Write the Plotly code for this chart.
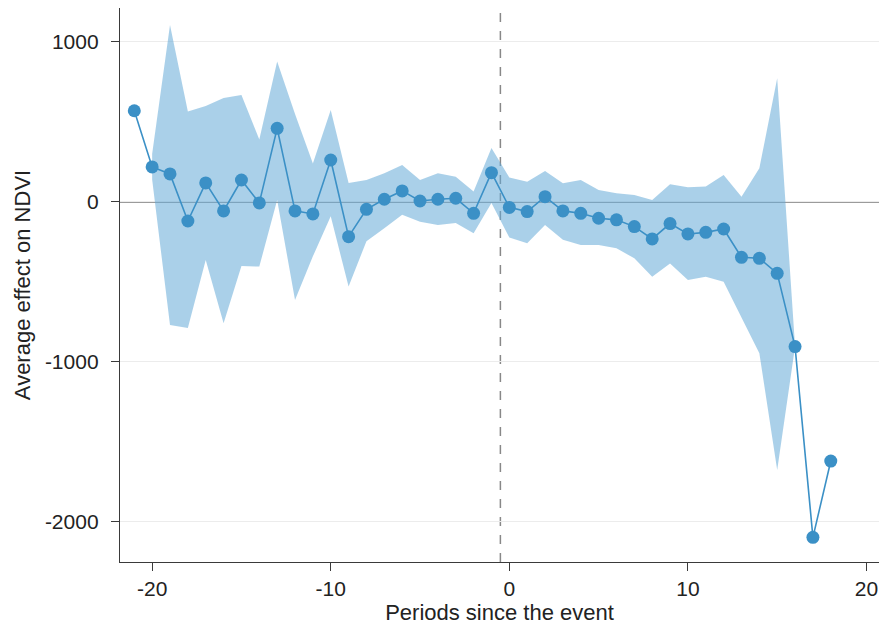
import plotly.graph_objects as go

# Event-study estimates: period relative to the event, point estimate and 95% CI
periods = [-21, -20, -19, -18, -17, -16, -15, -14, -13, -12, -11, -10, -9, -8, -7,
           -6, -5, -4, -3, -2, -1, 0, 1, 2, 3, 4, 5, 6, 7, 8, 9, 10, 11, 12, 13,
           14, 15, 16, 17, 18]
estimates = [570, 219, 175, -119, 119, -56, 137, -6, 460, -56, -75, 262, -217, -46, 17,
             69, 6, 17, 23, -71, 183, -34, -60, 33, -56, -71, -102, -112, -154, -231, -135,
             -200, -190, -169, -346, -352, -446, -904, -2096, -1619]

# Confidence band (available from period -20 to 16)
ci_periods = [-20, -19, -18, -17, -16, -15, -14, -13, -12, -11, -10, -9, -8, -7, -6,
              -5, -4, -3, -2, -1, 0, 1, 2, 3, 4, 5, 6, 7, 8, 9, 10, 11, 12, 13, 14,
              15, 16]
ci_upper = [300, 1106, 565, 600, 650, 669, 390, 877, 550, 240, 575, 119, 137, 180, 231,
            137, 180, 158, 65, 337, 152, 127, 194, 117, 137, 75, 54, 44, 12, 110, 92,
            96, 169, 33, 210, 773, -904]
ci_lower = [140, -769, -788, -362, -758, -400, -404, 12, -612, -340, -90, -529, -245, -165, -80,
            -123, -144, -131, -195, -6, -222, -258, -144, -237, -269, -269, -290, -352, -467, -385, -487,
            -467, -498, -717, -945, -1675, -904]

x_ticks = [-20, -10, 0, 10, 20]
x_tick_labels = ["-20", "-10", "0", "10", "20"]
y_ticks = [1000, 0, -1000, -2000]
y_tick_labels = ["1000", "0", "-1000", "-2000"]

event_line = -0.5

blue = "#3b90c6"
band = "rgba(100,170,215,0.55)"
font = "Liberation Sans, Arial, sans-serif"
axis_col = "#3a3a3a"

fig = go.Figure()

fig.add_trace(go.Scatter(
    x=ci_periods + ci_periods[::-1],
    y=ci_upper + ci_lower[::-1],
    fill="toself", fillcolor=band, line=dict(width=0),
    mode="lines", hoverinfo="skip", showlegend=False,
))

fig.add_trace(go.Scatter(
    x=periods, y=estimates, mode="lines+markers",
    line=dict(color=blue, width=1.6),
    marker=dict(color=blue, size=13),
    showlegend=False,
))

fig.add_hline(y=0, line=dict(color="#7a7a7a", width=1.5), layer="below")
fig.add_vline(x=event_line, line=dict(color="#888888", width=1.5, dash="dash"), layer="below")

fig.update_layout(
    width=880, height=628,
    margin=dict(l=120, r=1, t=8, b=66),
    plot_bgcolor="white", paper_bgcolor="white",
    font=dict(family=font, size=21, color="#222222"),
)

fig.update_xaxes(
    range=[-21.8, 20.7],
    tickmode="array", tickvals=x_ticks, ticktext=x_tick_labels,
    ticks="outside", ticklen=8, tickcolor=axis_col, tickwidth=1.3,
    showline=True, linecolor=axis_col, linewidth=1.4,
    showgrid=False, zeroline=False,
    title=dict(text="Periods since the event", standoff=0, font=dict(size=22)),
    tickfont=dict(size=21),
)

fig.update_yaxes(
    range=[-2250, 1212],
    tickmode="array", tickvals=y_ticks, ticktext=y_tick_labels,
    ticks="outside", ticklen=8, tickcolor=axis_col, tickwidth=1.3,
    ticklabelstandoff=8,
    showline=True, linecolor=axis_col, linewidth=1.4,
    showgrid=True, gridcolor="#ececec", gridwidth=1,
    zeroline=False,
    title=dict(text="Average effect on NDVI", standoff=8, font=dict(size=22)),
    tickfont=dict(size=21),
)

fig.write_html("out.html")
